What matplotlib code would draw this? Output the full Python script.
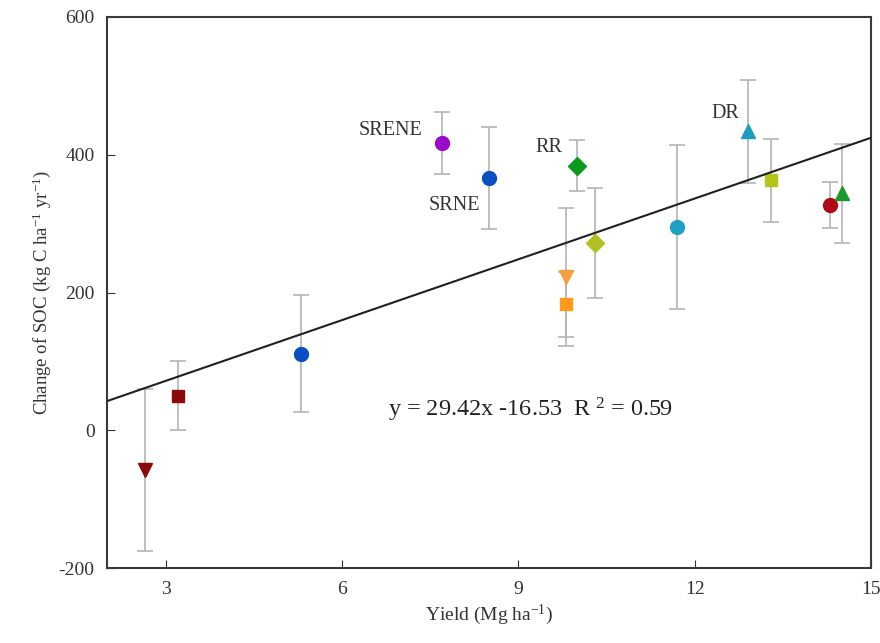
import numpy as np
import matplotlib
matplotlib.use('Agg')
import matplotlib.pyplot as plt

plt.rcParams['font.family'] = ['Liberation Serif', 'DejaVu Serif']
plt.rcParams['mathtext.fontset'] = 'custom'
plt.rcParams['mathtext.rm'] = 'Liberation Serif'
plt.rcParams['mathtext.default'] = 'regular'
plt.rcParams['axes.unicode_minus'] = False

# data
yield_x = [2.64, 3.2, 5.3, 7.7, 8.5, 10.0, 9.8, 9.8, 10.3, 11.7, 12.9, 13.3, 14.3, 14.5]
soc_y = [-58, 50, 111, 417, 366, 384, 223, 183, 272, 295, 434, 363, 327, 344]
soc_err = [118, 50, 85, 45, 74, 37, 100, 47, 80, 119, 75, 60, 34, 72]
markers = ['v', 's', 'o', 'o', 'o', 'D', 'v', 's', 'D', 'o', '^', 's', 'o', '^']
colors = ['#8b0a0a', '#8b0a0a', '#0a4fc0', '#9a0ac8', '#0a4fc0', '#0a9a1e', '#f5a040',
          '#ff9a1a', '#b0c020', '#20a0c8', '#1e9cc0', '#b4c41a', '#b00a14', '#1a9a2a']

labels = ['SRENE', 'SRNE', 'RR', 'DR']
label_x = [7.36, 8.35, 9.74, 12.76]
label_y = [435, 326, 410, 460]

slope, intercept = 29.42, -16.53

fig = plt.figure(figsize=(8.8, 6.43), dpi=100)
ax = fig.add_axes([0.1216, 0.1166, 0.8684, 0.857])

for xi, yi, ei, mk, cl in zip(yield_x, soc_y, soc_err, markers, colors):
    ax.errorbar(xi, yi, yerr=ei, fmt='none', ecolor='#b4b4b8', elinewidth=1.2,
                capsize=6, capthick=1.2, zorder=2)
    ms = 9 if mk in ('s', 'D') else 10
    ax.plot(xi, yi, marker=mk, color=cl, markersize=ms, linestyle='none', zorder=3)

xl = np.array([2, 15])
ax.plot(xl, slope * xl + intercept, color='#202020', linewidth=1.5, zorder=4)

for t, tx, ty in zip(labels, label_x, label_y):
    ax.text(tx, ty, t, ha='right', va='center', fontsize=14.5, color='#333333')

ax.text(6.78, 29, 'y = 29.42x -16.53  R $^{2}$ = 0.59', ha='left', va='center',
        fontsize=17.5, color='#222222')

ax.set_xlim(2, 15)
ax.set_ylim(-200, 600)
ax.set_xticks([3, 6, 9, 12, 15])
ax.set_yticks([-200, 0, 200, 400, 600])
ax.tick_params(direction='in', length=6, labelsize=14, colors='#333333', pad=9)
for s in ax.spines.values():
    s.set_color('#3a3a3a')
    s.set_linewidth(1.5)

ax.set_xlabel('Yield (Mg ha$^{-1}$)', fontsize=14, color='#333333')
ax.set_ylabel('Change of SOC (kg C ha$^{-1}$ yr$^{-1}$)', fontsize=13.5, color='#333333')

plt.savefig('out.png', dpi=100)
